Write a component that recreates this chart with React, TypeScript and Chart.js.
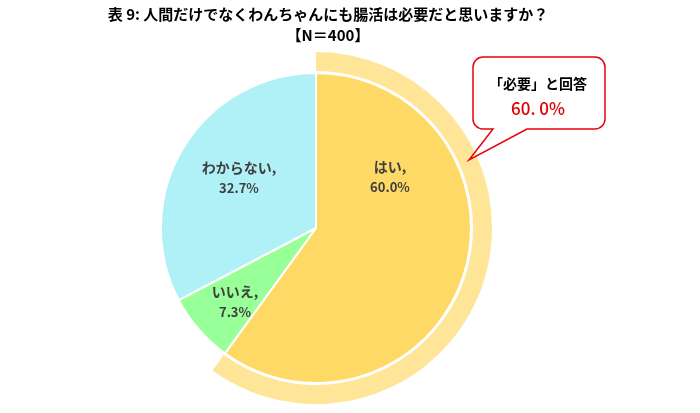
import React, { useEffect, useRef } from "react";
import { Chart, registerables } from "chart.js";

Chart.register(...registerables);

const TITLE_LINES = ["表 9: 人間だけでなくわんちゃんにも腸活は必要だと思いますか？", "【N＝400】"];
const CATEGORIES = ["はい", "いいえ", "わからない"];
const VALUES = [60.0, 7.3, 32.7];
const VALUE_LABELS = ["60.0%", "7.3%", "32.7%"];
const COLORS = ["#FFD966", "#99FF99", "#AFF1F6"];
const RING_VALUES = [60.0, 40.0];
const CALLOUT_LINES = ["「必要」と回答", "60. 0%"];

const FONT = '"Noto Sans CJK JP", "Noto Sans", sans-serif';
// label offsets relative to pie centre (px)
const LABEL_OFFSETS = [
  [74, -51],
  [-81, 74],
  [-77, -50],
];

const overlayPlugin = {
  id: "overlay",
  afterDraw(chart: any) {
    const ctx = chart.ctx;
    ctx.save();
    // title
    ctx.fillStyle = "#000";
    ctx.textAlign = "center";
    ctx.textBaseline = "middle";
    ctx.font = `bold 15px ${FONT}`;
    ctx.fillText(TITLE_LINES[0], 328, 14);
    ctx.fillText(TITLE_LINES[1], 328, 35);

    // slice labels
    const meta = chart.getDatasetMeta(2);
    const arc0 = meta.data[0];
    const cx = arc0.x;
    const cy = arc0.y;
    ctx.fillStyle = "#404040";
    CATEGORIES.forEach((c, i) => {
      const [dx, dy] = LABEL_OFFSETS[i];
      ctx.font = `bold 14px ${FONT}`;
      ctx.fillText(c + ",", cx + dx, cy + dy - 10);
      ctx.font = `bold 13px ${FONT}`;
      ctx.fillText(VALUE_LABELS[i], cx + dx, cy + dy + 10);
    });

    // callout
    const x0 = 473, y0 = 57, x1 = 605, y1 = 129, r = 10;
    ctx.beginPath();
    ctx.moveTo(x0 + r, y0);
    ctx.lineTo(x1 - r, y0);
    ctx.arcTo(x1, y0, x1, y0 + r, r);
    ctx.lineTo(x1, y1 - r);
    ctx.arcTo(x1, y1, x1 - r, y1, r);
    ctx.lineTo(527, y1);
    ctx.lineTo(469, 160);
    ctx.lineTo(493, y1);
    ctx.lineTo(x0 + r, y1);
    ctx.arcTo(x0, y1, x0, y1 - r, r);
    ctx.lineTo(x0, y0 + r);
    ctx.arcTo(x0, y0, x0 + r, y0, r);
    ctx.closePath();
    ctx.fillStyle = "#fff";
    ctx.fill();
    ctx.strokeStyle = "#E8000B";
    ctx.lineWidth = 1.5;
    ctx.stroke();

    ctx.fillStyle = "#000";
    ctx.font = `bold 14px ${FONT}`;
    ctx.fillText(CALLOUT_LINES[0], 538, 84);
    ctx.fillStyle = "#E00000";
    ctx.font = `500 17px ${FONT}`;
    ctx.fillText(CALLOUT_LINES[1], 538, 109);
    ctx.restore();
  },
};

export default function App() {
  const ref = useRef<HTMLCanvasElement>(null);
  useEffect(() => {
    document.body.style.margin = "0";
    const chart = new Chart(ref.current!, {
      type: "doughnut",
      data: {
        labels: CATEGORIES,
        datasets: [
          {
            data: RING_VALUES,
            backgroundColor: ["#FFE597", "rgba(0,0,0,0)"],
            borderWidth: 0,
            weight: 19,
          },
          {
            data: [1],
            backgroundColor: ["rgba(0,0,0,0)"],
            borderWidth: 0,
            weight: 2,
          },
          {
            data: VALUES,
            backgroundColor: COLORS,
            borderColor: "#fff",
            borderWidth: 2,
            weight: 155,
          },
        ] as any,
      },
      options: {
        animation: false,
        responsive: true,
        maintainAspectRatio: false,
        cutout: 0,
        radius: 176,
        hoverOffset: 0,
        layout: { padding: { left: 140, right: 208, top: 52, bottom: 9 } },
        plugins: { legend: { display: false }, tooltip: { enabled: false }, title: { display: false } },
        events: [],
      } as any,
      plugins: [overlayPlugin],
    });
    return () => chart.destroy();
  }, []);
  return (
    <div style={{ width: 700, height: 413, position: "relative", background: "#fff" }}>
      <canvas ref={ref} />
    </div>
  );
}
